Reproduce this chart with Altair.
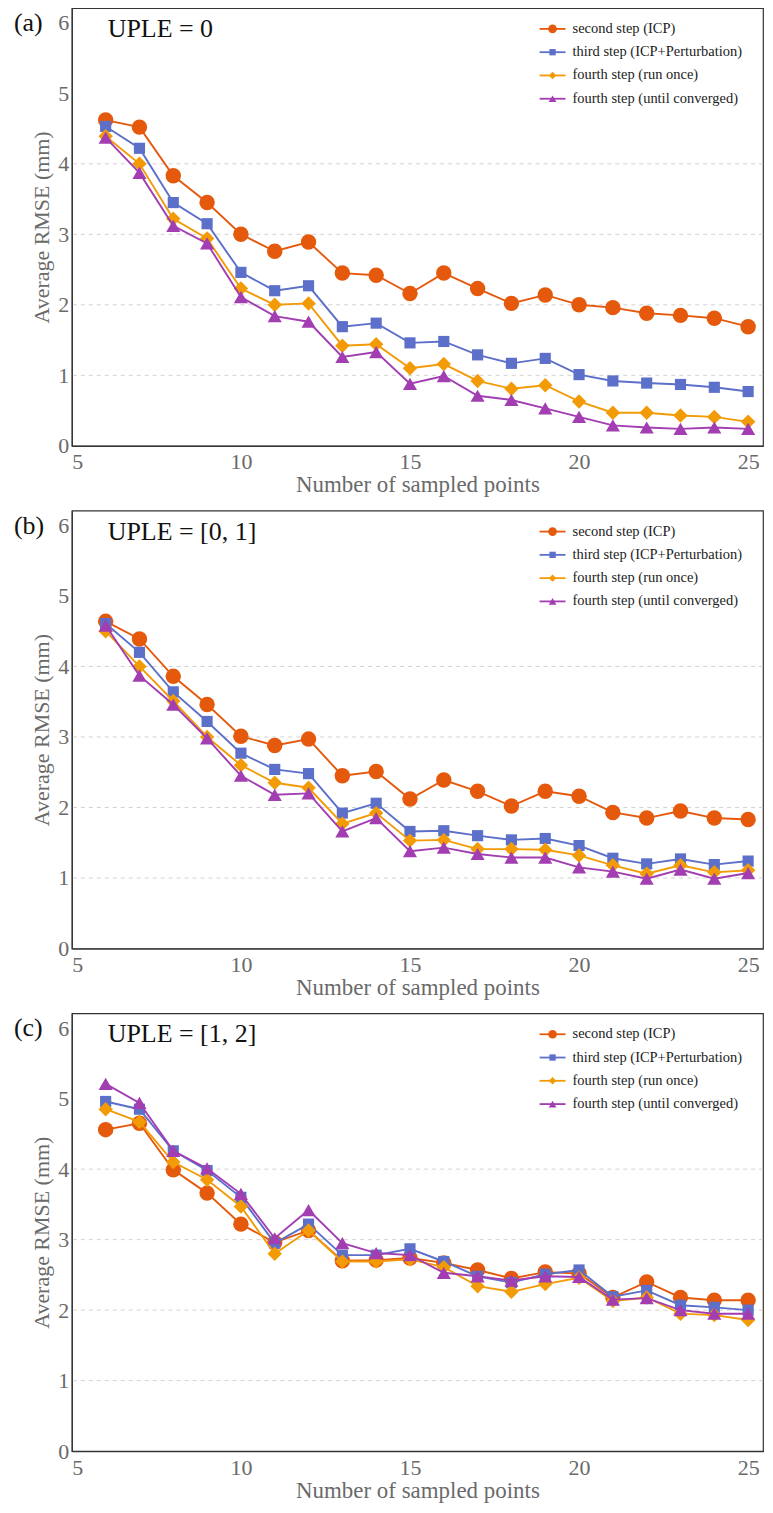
import altair as alt
import pandas as pd

# ---------------- data ----------------
n_points = list(range(6, 26))
series_names = [
    "second step (ICP)",
    "third step (ICP+Perturbation)",
    "fourth step (run once)",
    "fourth step (until converged)",
]
colors = ["#E5590D", "#5C6FC9", "#F39B07", "#A23DB2"]
shapes = ["circle", "square", "diamond", "triangle-up"]
sizes = [240, 125, 210, 200]
legend_sizes = [75, 40, 55, 60]

panel_tags = ["(a)", "(b)", "(c)"]
panel_titles = ["UPLE = 0", "UPLE = [0, 1]", "UPLE = [1, 2]"]

a_icp = [4.62, 4.52, 3.83, 3.45, 3.00, 2.76, 2.89, 2.45, 2.42, 2.16, 2.45, 2.23, 2.02, 2.14, 2.00, 1.96, 1.88, 1.85, 1.81, 1.69]
a_pert = [4.53, 4.22, 3.45, 3.15, 2.46, 2.20, 2.27, 1.69, 1.74, 1.46, 1.48, 1.29, 1.17, 1.24, 1.01, 0.92, 0.89, 0.87, 0.83, 0.77]
a_once = [4.39, 4.00, 3.22, 2.94, 2.23, 2.00, 2.02, 1.42, 1.44, 1.10, 1.16, 0.92, 0.81, 0.86, 0.63, 0.47, 0.47, 0.43, 0.41, 0.34]
a_conv = [4.37, 3.87, 3.12, 2.87, 2.11, 1.84, 1.76, 1.26, 1.33, 0.88, 0.99, 0.71, 0.65, 0.53, 0.41, 0.29, 0.26, 0.24, 0.26, 0.24]

b_icp = [4.64, 4.39, 3.86, 3.46, 3.01, 2.88, 2.97, 2.45, 2.51, 2.12, 2.39, 2.23, 2.02, 2.23, 2.16, 1.93, 1.85, 1.95, 1.85, 1.83]
b_pert = [4.61, 4.20, 3.64, 3.22, 2.77, 2.54, 2.48, 1.92, 2.06, 1.66, 1.67, 1.60, 1.54, 1.56, 1.46, 1.28, 1.20, 1.27, 1.19, 1.24]
b_once = [4.50, 4.00, 3.51, 3.00, 2.60, 2.35, 2.28, 1.77, 1.92, 1.53, 1.54, 1.41, 1.41, 1.40, 1.32, 1.18, 1.06, 1.18, 1.08, 1.11]
b_conv = [4.58, 3.87, 3.46, 2.98, 2.45, 2.18, 2.20, 1.66, 1.85, 1.38, 1.43, 1.34, 1.29, 1.29, 1.15, 1.09, 0.99, 1.12, 0.99, 1.07]

c_icp = [4.56, 4.65, 3.99, 3.66, 3.22, 2.96, 3.13, 2.70, 2.71, 2.74, 2.67, 2.57, 2.45, 2.54, 2.52, 2.18, 2.40, 2.18, 2.14, 2.14]
c_pert = [4.96, 4.85, 4.26, 3.98, 3.60, 2.95, 3.22, 2.78, 2.78, 2.87, 2.69, 2.48, 2.39, 2.51, 2.57, 2.19, 2.28, 2.07, 2.04, 2.00]
c_once = [4.85, 4.67, 4.10, 3.85, 3.47, 2.80, 3.13, 2.69, 2.69, 2.72, 2.61, 2.34, 2.26, 2.37, 2.46, 2.13, 2.18, 1.95, 1.93, 1.86]
c_conv = [5.21, 4.94, 4.26, 4.01, 3.65, 3.02, 3.42, 2.95, 2.81, 2.78, 2.53, 2.48, 2.42, 2.48, 2.47, 2.15, 2.17, 2.00, 1.95, 1.95]

panels_data = [
    [a_icp, a_pert, a_once, a_conv],
    [b_icp, b_pert, b_once, b_conv],
    [c_icp, c_pert, c_once, c_conv],
]

x_ticks = [5, 10, 15, 20, 25]
y_ticks = [0, 1, 2, 3, 4, 5, 6]
grid_values = [1, 2, 3, 4]
x_domain = [5, 25.44]
y_domain = [0, 6.21]

SERIF = "Liberation Serif"
W, H = 693, 439

y_axis = alt.Axis(values=y_ticks, title="Average RMSE (mm)", grid=False,
                  ticks=False, labelPadding=3, titlePadding=4, titleFontSize=22)
x_axis = alt.Axis(values=x_ticks, title="Number of sampled points", grid=False,
                  ticks=False, labelPadding=6, titlePadding=1, titleFontSize=23)
y_scale = alt.Scale(domain=y_domain, nice=False, zero=False)
x_scale = alt.Scale(domain=x_domain, nice=False, zero=False)


def make_panel(idx):
    rows = []
    for name, vals in zip(series_names, panels_data[idx]):
        for n, v in zip(n_points, vals):
            rows.append({"series": name, "n": n, "rmse": v})
    df = pd.DataFrame(rows)

    x_enc = alt.X("n:Q", scale=x_scale, axis=x_axis)
    y_enc = alt.Y("rmse:Q", scale=y_scale, axis=y_axis)

    grid = alt.Chart(pd.DataFrame({"g": grid_values})).mark_rule(
        color="#d2d2d2", strokeDash=[4, 4], strokeWidth=1
    ).encode(y=alt.Y("g:Q", scale=y_scale, axis=y_axis))

    layers = [grid]
    for name, col, shp, sz in zip(series_names, colors, shapes, sizes):
        sub = alt.Chart(df).transform_filter(alt.datum.series == name)
        layers.append(sub.mark_line(color=col, strokeWidth=1.9).encode(x=x_enc, y=y_enc))
        layers.append(
            sub.mark_point(shape=shp, filled=True, size=sz, color=col, opacity=1).encode(x=x_enc, y=y_enc)
        )

    tag = alt.Chart(pd.DataFrame({"t": [panel_tags[idx]]})).mark_text(
        font=SERIF, fontSize=26, align="left", baseline="alphabetic", color="#111"
    ).encode(text="t:N", x=alt.value(-58), y=alt.value(23))
    ttl = alt.Chart(pd.DataFrame({"t": [panel_titles[idx]]})).mark_text(
        font=SERIF, fontSize=26, align="left", baseline="alphabetic", color="#111"
    ).encode(text="t:N", x=alt.value(36), y=alt.value(29))
    layers += [tag, ttl]

    main = alt.layer(*layers)

    # manual legend (line segment + marker + label)
    leg_df = pd.DataFrame({"series": series_names})
    leg_y = alt.Y(
        "series:N",
        sort=series_names,
        scale=alt.Scale(type="point", domain=series_names, range=[21, 91], padding=0),
        axis=None,
    )
    color_enc = alt.Color("series:N", scale=alt.Scale(domain=series_names, range=colors), legend=None)
    leg_layers = [
        alt.Chart(leg_df).mark_rule(strokeWidth=1.8).encode(
            x=alt.value(469), x2=alt.value(495), y=leg_y, color=color_enc
        )
    ]
    for name, col, shp, sz in zip(series_names, colors, shapes, legend_sizes):
        leg_layers.append(
            alt.Chart(leg_df).transform_filter(alt.datum.series == name).mark_point(
                shape=shp, filled=True, size=sz, color=col, opacity=1
            ).encode(x=alt.value(482), y=leg_y)
        )
    leg_layers.append(
        alt.Chart(leg_df).mark_text(
            font=SERIF, fontSize=14.5, align="left", baseline="middle", color="#222"
        ).encode(x=alt.value(502), y=leg_y, text="series:N")
    )
    legend = alt.layer(*leg_layers)

    return alt.layer(main, legend).resolve_scale(y="independent").properties(width=W, height=H)


chart = alt.vconcat(
    make_panel(0), make_panel(1), make_panel(2), spacing=65, bounds="flush"
).properties(
    padding={"left": 5, "top": -3, "right": 0, "bottom": 0}
).configure_view(
    stroke="#333333", strokeWidth=1.2
).configure_axis(
    labelFont=SERIF, labelFontSize=22, labelColor="#6a6a6a",
    titleFont=SERIF, titleColor="#6a6a6a", titleFontWeight="normal",
    domainColor="#333333", domainWidth=1.2,
)

chart.save("out.html", embed_options={"renderer": "svg", "actions": False})
